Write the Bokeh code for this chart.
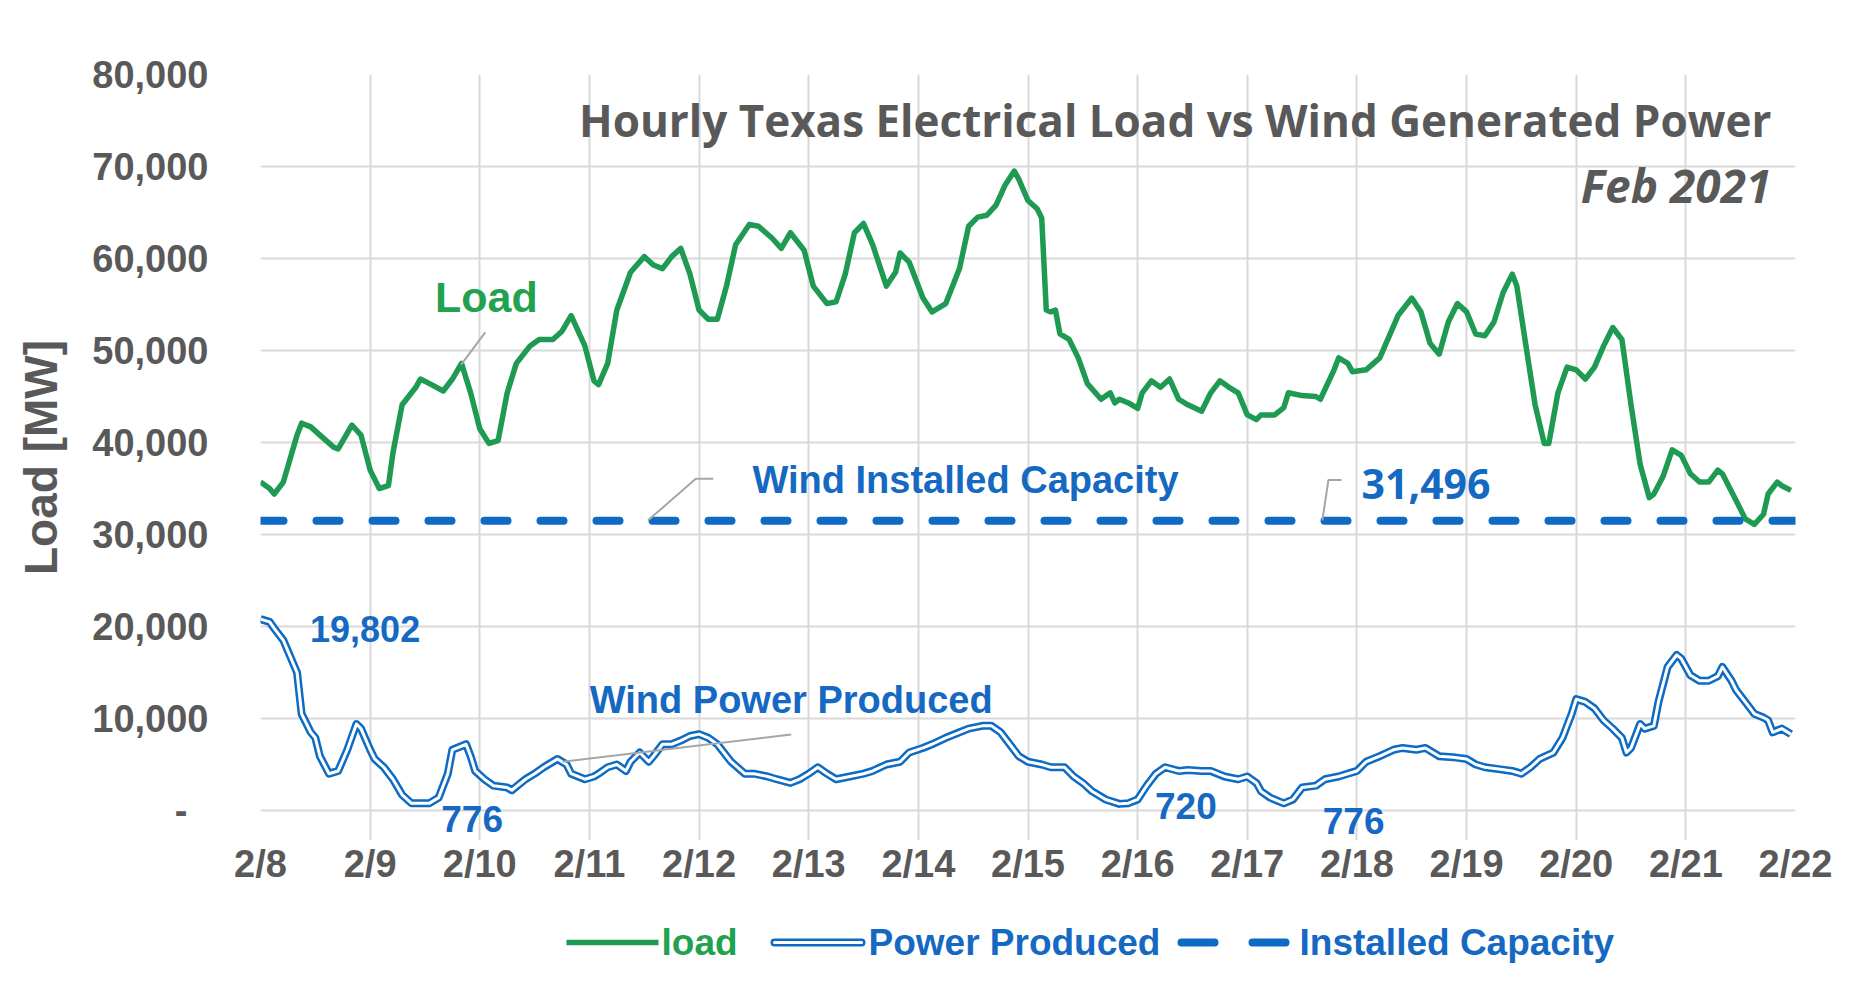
import math
from bokeh.plotting import figure
from bokeh.layouts import column
from bokeh.models import Label, FixedTicker, Range1d
from bokeh.embed import file_html
from bokeh.resources import INLINE
from bokeh.core.properties import value

# ---------------- data ----------------
day_labels = ["2/8", "2/9", "2/10", "2/11", "2/12", "2/13", "2/14", "2/15",
              "2/16", "2/17", "2/18", "2/19", "2/20", "2/21", "2/22"]
y_ticks = [0, 10000, 20000, 30000, 40000, 50000, 60000, 70000, 80000]
y_tick_labels = ["-\u00a0\u00a0", "10,000", "20,000", "30,000", "40,000",
                 "50,000", "60,000", "70,000", "80,000"]

# hours since 2/8 00:00 and hourly load [MW]
load_hour = [0, 2, 3, 5, 8, 9, 11, 13, 16, 17, 20, 22, 24, 26, 28, 29, 31, 34, 35, 37,
             40, 42, 44, 46, 48, 50, 52, 54, 56, 59, 61, 64, 66, 68, 71, 73, 74, 76, 78, 81,
             84, 86, 88, 90, 92, 94, 96, 98, 100, 102, 104, 107, 109, 112, 114, 116, 119, 121, 124, 126,
             128, 130, 132, 134, 137, 139, 140, 142, 145, 147, 150, 153, 155, 157, 159, 161, 163, 165, 166, 168,
             170, 171, 172, 173, 174, 175, 177, 179, 181, 184, 186, 187, 188, 190, 192, 193, 195, 197, 199, 201,
             203, 206, 208, 210, 212, 214, 216, 218, 219, 222, 224, 225, 228, 231, 232, 235, 236, 238, 239, 242,
             245, 249, 252, 254, 256, 258, 260, 262, 264, 266, 268, 270, 272, 274, 275, 277, 279, 281, 282, 284,
             286, 288, 290, 292, 294, 296, 298, 300, 302, 304, 305, 307, 309, 311, 313, 315, 317, 319, 320, 323,
             325, 327, 329, 330, 332, 333, 335]
load_mw = [35700, 35000, 34400, 35700, 40800, 42100, 41700, 40800, 39500, 39300,
           41900, 40800, 37000, 35000, 35300, 38900, 44100, 46000, 46900, 46400,
           45600, 46900, 48600, 45400, 41500, 39900, 40200, 45400, 48600, 50500,
           51200, 51200, 52100, 53800, 50500, 46700, 46300, 48600, 54400, 58500,
           60200, 59300, 58900, 60200, 61100, 58300, 54400, 53400, 53400, 57000,
           61500, 63700, 63500, 62200, 61100, 62800, 60900, 57000, 55100, 55300,
           58300, 62800, 63800, 61500, 57000, 58500, 60600, 59600, 55700, 54200,
           55100, 58900, 63500, 64500, 64700, 65800, 68000, 69500, 68600, 66300,
           65400, 64400, 54400, 54200, 54400, 51800, 51200, 49200, 46400, 44700,
           45400, 44300, 44700, 44300, 43700, 45400, 46700, 46000, 46900, 44700,
           44100, 43400, 45400, 46700, 46000, 45400, 43000, 42500, 43000, 43000,
           43800, 45400, 45100, 45000, 44700, 47900, 49200, 48600, 47700, 47900,
           49200, 53800, 55700, 54200, 50800, 49600, 53100, 55100, 54200, 51800,
           51600, 53100, 56300, 58300, 57000, 50500, 44100, 39900, 39900, 45400,
           48200, 47900, 46900, 48200, 50500, 52500, 51200, 44100, 37600, 34000,
           34400, 36300, 39200, 38600, 36600, 35700, 35700, 37000, 36600, 33700,
           31700, 31100, 32200, 34400, 35700, 35300, 34800]

# hours since 2/8 00:00 and hourly wind power produced [MW]
wind_hour = [0, 2, 3, 5, 8, 9, 11, 12, 13, 15, 17, 19, 21, 22, 24, 25, 27, 29, 31, 33,
             35, 37, 39, 41, 42, 45, 46, 47, 49, 51, 54, 55, 58, 60, 62, 65, 67, 68, 71, 73,
             74, 76, 78, 80, 81, 83, 85, 86, 88, 90, 92, 94, 96, 98, 100, 103, 106, 108, 111, 113,
             116, 118, 120, 122, 124, 126, 129, 132, 134, 137, 140, 142, 145, 147, 150, 153, 155, 158, 160, 162,
             164, 166, 168, 171, 173, 176, 178, 180, 182, 185, 188, 190, 192, 194, 196, 198, 201, 203, 206, 208,
             211, 214, 216, 218, 219, 221, 224, 226, 228, 231, 233, 236, 238, 240, 242, 245, 248, 250, 253, 255,
             258, 261, 264, 266, 268, 271, 274, 276, 278, 280, 283, 285, 287, 288, 290, 292, 294, 296, 298, 299,
             300, 302, 303, 305, 306, 308, 310, 311, 313, 315, 317, 319, 320, 322, 323, 325, 327, 329, 330, 331,
             333, 335]
wind_mw = [20800, 20500, 19802, 18500, 15000, 10500, 8500, 7900, 5900, 4000,
           4300, 6600, 9400, 8900, 6600, 5600, 4700, 3400, 1700, 800,
           776, 800, 1400, 4000, 6600, 7200, 5900, 4300, 3400, 2700,
           2500, 2200, 3400, 4000, 4700, 5600, 5000, 4000, 3400, 3700,
           4000, 4700, 5000, 4300, 5300, 6300, 5300, 5900, 7200, 7200,
           7600, 8100, 8300, 7900, 7200, 5300, 4000, 4000, 3700, 3400,
           3000, 3400, 4000, 4700, 4000, 3400, 3700, 4000, 4300, 5000,
           5300, 6300, 6800, 7200, 7900, 8500, 8900, 9200, 9200, 8500,
           7200, 5900, 5300, 5000, 4700, 4700, 3700, 3000, 2100, 1200,
           720, 800, 1200, 2700, 4000, 4700, 4300, 4400, 4300, 4300,
           3700, 3400, 3700, 3000, 2100, 1400, 776, 1200, 2500, 2700,
           3400, 3700, 4000, 4300, 5300, 5900, 6600, 6800, 6600, 6800,
           5900, 5800, 5600, 5000, 4700, 4500, 4300, 4000, 4700, 5600,
           6300, 7900, 10500, 12100, 11800, 11100, 9800, 8900, 7900, 6300,
           6800, 9400, 8900, 9200, 11800, 15600, 16900, 16500, 14700, 14100,
           14100, 14600, 15600, 14100, 13100, 11800, 10500, 10100, 9800, 8500,
           8900, 8300]

capacity_mw = 31496

legend_labels = ["load", "Power Produced", "Installed Capacity"]

# ---------------- styling ----------------
FONT = "Liberation Sans"
GREY = "#595959"
GREEN = "#1f9a52"
GREEN_TXT = "#22a24f"
BLUE = "#0e6bc4"
BLUE_TXT = "#1569c2"
GRID = "#d9d9d9"
LEADER = "#a6a6a6"

W = 1864
MAIN_H = 916
LEG_H = 72
BORDER_L = 260
BORDER_R = 69
FRAME_H = 736          # height of the 0..80,000 band in px
EXTRA = 30             # room below zero for the minimum labels
y_max = 80000
y_min = -y_max * EXTRA / FRAME_H

load_x = [h / 24 for h in load_hour]
wind_x = [h / 24 for h in wind_hour]
n_days = len(day_labels) - 1

p = figure(width=W, height=MAIN_H, output_backend="svg", toolbar_location=None,
           x_range=Range1d(0, n_days), y_range=Range1d(y_min, y_max),
           min_border_left=BORDER_L, min_border_right=BORDER_R, min_border_top=74,
           min_border_bottom=MAIN_H - 74 - FRAME_H - EXTRA,
           background_fill_color="white", border_fill_color="white")
p.outline_line_color = None

# axes
p.xaxis.ticker = FixedTicker(ticks=list(range(len(day_labels))))
p.xaxis.major_label_overrides = {i: s for i, s in enumerate(day_labels)}
p.yaxis.ticker = FixedTicker(ticks=y_ticks)
p.yaxis.major_label_overrides = {t: s for t, s in zip(y_ticks, y_tick_labels)}
for ax in (p.xaxis, p.yaxis):
    ax.axis_line_color = None
    ax.major_tick_line_color = None
    ax.minor_tick_line_color = None
    ax.major_tick_out = 0
    ax.major_tick_in = 0
    ax.major_label_text_font = FONT
    ax.major_label_text_font_size = "38px"
    ax.major_label_text_font_style = "bold"
    ax.major_label_text_color = GREY
p.xaxis.major_label_standoff = 2
p.yaxis.major_label_standoff = 52
p.yaxis.axis_label = "Load [MW]"
p.yaxis.axis_label_text_font = FONT
p.yaxis.axis_label_text_font_size = "46px"
p.yaxis.axis_label_text_font_style = "bold"
p.yaxis.axis_label_text_color = GREY
p.yaxis.axis_label_standoff = 22

p.xgrid.grid_line_color = GRID
p.ygrid.grid_line_color = GRID
p.xgrid.grid_line_width = 2
p.ygrid.grid_line_width = 2
p.xgrid.bounds = (0, y_max)

# series
r_load = p.line(load_x, load_mw, line_color=GREEN, line_width=5.5, line_join="round")
r_cap = p.line([0, n_days], [capacity_mw, capacity_mw], line_color=BLUE,
               line_width=8, line_dash="23 33", line_cap="round")
r_w1 = p.line(wind_x, wind_mw, line_color=BLUE, line_width=8, line_join="round")
r_w2 = p.line(wind_x, wind_mw, line_color="white", line_width=3, line_join="round")

# leader lines (annotation callouts)
leaders = [
    ([2.05, 1.83], [51960, 48470]),
    ([3.535, 3.97, 4.13], [31536, 36060, 36060]),
    ([9.685, 9.74, 9.86], [31540, 35930, 35930]),
    ([2.755, 4.84], [5300, 8270]),
]
for lx, ly in leaders:
    p.line(lx, ly, line_color=LEADER, line_width=2)

def add_label(x, y, text, color, size="38px", font=FONT, align="center",
              style="bold", angle=0.0):
    p.add_layout(Label(x=x, y=y, text=text, text_color=color, text_font=font,
                       text_font_size=size, text_font_style=style,
                       text_align=align, text_baseline="middle", angle=angle))

add_label(2.06, 55830, "Load", GREEN_TXT, size="43px")
add_label(6.43, 35930, "Wind Installed Capacity", BLUE_TXT)
add_label(10.63, 35500, "31,496", BLUE_TXT, size="41px", font="Open Sans")
add_label(0.954, 19770, "19,802", BLUE_TXT, size="36px")
add_label(4.84, 12020, "Wind Power Produced", BLUE_TXT)
add_label(1.93, -900, "776", BLUE_TXT, size="37px")
add_label(8.44, 520, "720", BLUE_TXT, size="37px")
add_label(9.97, -1160, "776", BLUE_TXT, size="37px")
add_label(13.78, 75100, "Hourly Texas Electrical Load vs Wind Generated Power", GREY,
          size="44px", font="Open Sans", align="right")
add_label(13.78, 67980, "Feb 2021", GREY, size="46px", font="Open Sans",
          align="right", style="bold italic")

# ---------------- legend strip (x in page pixels) ----------------
lg = figure(width=W, height=LEG_H, output_backend="svg", toolbar_location=None,
            x_range=Range1d(BORDER_L, W - BORDER_R), y_range=Range1d(0, LEG_H),
            min_border_left=BORDER_L, min_border_right=BORDER_R,
            min_border_top=0, min_border_bottom=0,
            background_fill_color="white", border_fill_color="white")
lg.axis.visible = False
lg.grid.visible = False
lg.outline_line_color = None

key_y = LEG_H - 26
lg.line([566, 658], [key_y, key_y], line_color=GREEN, line_width=5.5)
lg.line([774, 861], [key_y, key_y], line_color=BLUE, line_width=8, line_cap="round")
lg.line([774, 861], [key_y, key_y], line_color="white", line_width=3, line_cap="round")
lg.line([1181, 1286], [key_y, key_y], line_color=BLUE, line_width=8,
        line_dash="33 38", line_cap="round")
lg.text(x=[661, 868, 1299], y=[key_y] * 3, text=legend_labels,
        text_color=[GREEN_TXT, BLUE_TXT, BLUE_TXT], text_font=value(FONT),
        text_font_size="37px", text_font_style="bold", text_baseline="middle",
        text_align="left")

layout = column(p, lg, spacing=0)
open("out.html", "w").write(file_html(layout, INLINE))
